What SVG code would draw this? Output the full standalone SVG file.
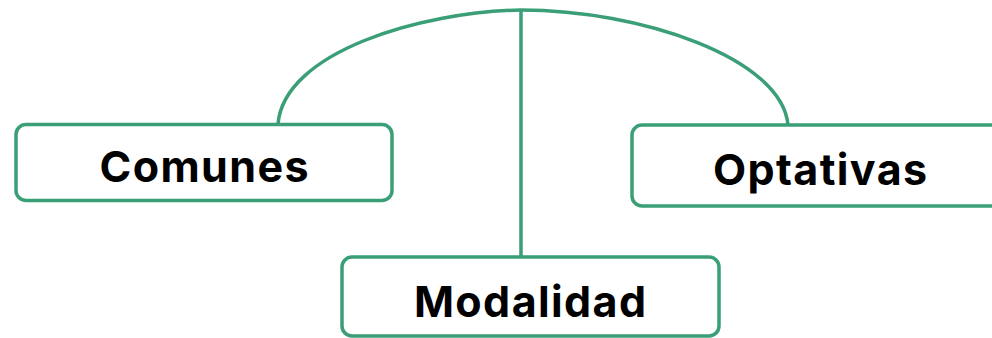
<svg xmlns="http://www.w3.org/2000/svg" width="992" height="338" viewBox="0 0 992 338">
<style>
.box{fill:#ffffff;stroke:#3a9e77;stroke-width:3.5}
.con{fill:none;stroke:#3a9e77;stroke-width:3.5}
.lbl{font-family:"Inter","Open Sans","Liberation Sans",sans-serif;font-weight:700;font-size:43px;letter-spacing:1.4px;fill:#000000;text-anchor:middle}
</style>
<rect width="992" height="338" fill="#ffffff"/>
<g id="connectors">
<path class="con" d="M278,124 C284,52 420,12 521,10 C640,10 782,58 788,125"/>
<line class="con" x1="521" y1="10" x2="521" y2="257"/>
</g>
<g id="comunes">
<rect class="box" x="16" y="124.5" width="376" height="76" rx="10"/>
<text class="lbl" x="204.7" y="182">Comunes</text>
</g>
<g id="optativas">
<rect class="box" x="632" y="125" width="375" height="81" rx="10"/>
<text class="lbl" x="820.7" y="185">Optativas</text>
</g>
<g id="modalidad">
<rect class="box" x="342" y="257" width="377" height="79" rx="10"/>
<text class="lbl" x="530.7" y="317">Modalidad</text>
</g>
</svg>
